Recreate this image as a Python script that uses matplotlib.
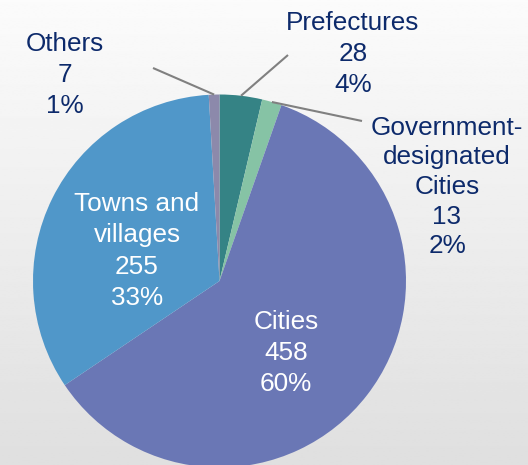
import matplotlib
matplotlib.use("Agg")
import matplotlib.pyplot as plt
import numpy as np

# data, clockwise from 12 o'clock
categories = ["Prefectures", "Government-\ndesignated\nCities", "Cities", "Towns and\nvillages", "Others"]
values = [28, 13, 458, 255, 7]
percent_labels = ["4%", "2%", "60%", "33%", "1%"]
colors = ["#358385", "#86C3A5", "#6A77B5", "#5097C9", "#8C89AB"]

W, H = 528, 465
text_color = "#0D2A6B"
line_color = "#808080"

fig = plt.figure(figsize=(W / 100, H / 100), dpi=100)
ax = fig.add_axes([0, 0, 1, 1])

# soft vertical gradient background
grad = np.linspace(0.985, 0.875, 256).reshape(-1, 1)
ax.imshow(grad, extent=(0, W, 0, H), origin="upper", cmap="gray", vmin=0, vmax=1,
          aspect="auto", zorder=0)

cx, cy, r = 219.5, H - 281, 186.5
wedges, _ = ax.pie(values, colors=colors, startangle=90, counterclock=False,
                   center=(cx, cy), radius=r, frame=True,
                   wedgeprops=dict(linewidth=0))
ax.set_xlim(0, W)
ax.set_ylim(0, H)
ax.set_aspect("equal")
ax.axis("off")
for w in wedges:
    w.set_zorder(2)

font = dict(family=["Liberation Sans", "DejaVu Sans"], fontsize=18.8)


def label_text(i):
    return f"{categories[i]}\n{values[i]}\n{percent_labels[i]}"


# outside labels: (index, text centre in image px, leader line end in image px, spacing)
outside = [
    (4, (65, 75), (153, 68), 1.38),
    (0, (353, 54), (288, 55), 1.38),
    (1, (447, 187), (362, 121), 1.3),
]
for i, (tx, ty), (lx, ly), ls in outside:
    w = wedges[i]
    mid = np.deg2rad((w.theta1 + w.theta2) / 2)
    px, py = cx + r * np.cos(mid), cy + r * np.sin(mid)
    ax.plot([px, lx], [py, H - ly], color=line_color, lw=1.5, zorder=3,
            solid_capstyle="butt")
    ax.text(tx, H - ty, label_text(i), ha="center", va="center", color=text_color,
            linespacing=ls, zorder=4, **font)

# inside labels
inside = [(3, (137, 251)), (2, (286, 353))]
for i, (tx, ty) in inside:
    ax.text(tx, H - ty, label_text(i), ha="center", va="center", color="white",
            linespacing=1.38, zorder=4, **font)

fig.savefig("out.png", dpi=100)
